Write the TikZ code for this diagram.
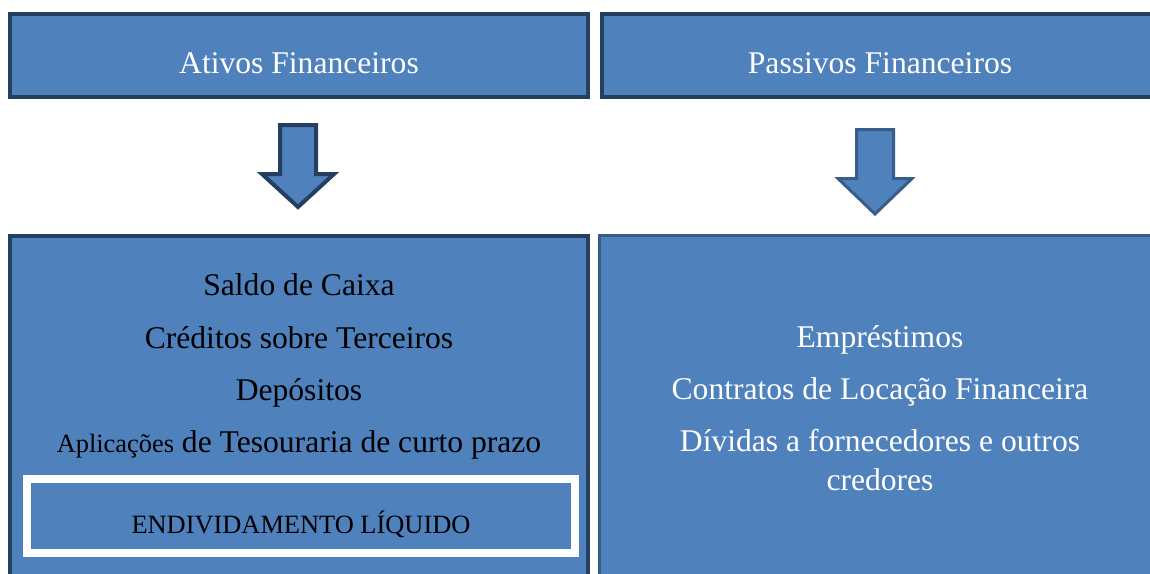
\documentclass[tikz,border=0pt]{standalone}
\usepackage{fontspec}
\setmainfont{Liberation Serif}

\definecolor{boxblue}{HTML}{4F81BD}
\definecolor{darkrim}{HTML}{243F60}
\definecolor{midrim}{HTML}{385D8A}

\tikzset{
	panel/.style={draw=darkrim,line width=4pt,fill=boxblue,inner sep=0pt},
	bigtext/.style={font=\fontsize{31.6}{38}\selectfont,anchor=base,inner sep=0pt},
	smalltext/.style={font=\fontsize{26.4}{32}\selectfont,anchor=base,inner sep=0pt}
}

\begin{document}
\begin{tikzpicture}[x=1pt,y=-1pt]
				\useasboundingbox (0,0) rectangle (1150,573);
				\clip (0,0) rectangle (1150,573);
				% top row
				\node[panel,minimum width=578pt,minimum height=83pt] (ativos) at (299,55.5) {};
				\node[panel,minimum width=558pt,minimum height=83pt] (passivos) at (881,55.5) {};
				\node[bigtext,text=white] (ativostitle) at (299,73) {Ativos Financeiros};
				\node[bigtext,text=white] (passivostitle) at (880,73) {Passivos Financeiros};
				% block arrows
				\draw[line width=4pt,draw=darkrim,fill=boxblue,line join=miter] (280,125) -- (316,125) -- (316,174) -- (334,174) -- (298,207) -- (262,174) -- (280,174) -- cycle;
				\draw[line width=3pt,draw=midrim,fill=boxblue,line join=miter] (856.5,129.5) -- (893.5,129.5) -- (893.5,178.5) -- (912,178.5) -- (875,214) -- (838,178.5) -- (856.5,178.5) -- cycle;
				% bottom row
				\node[panel,minimum width=578pt,minimum height=364pt] (ativoslist) at (299,418) {};
				\node[panel,draw=midrim,line width=3pt,minimum width=560.5pt,minimum height=364.5pt] (passivoslist) at (879.75,417.75) {};
				\node[bigtext] (saldo) at (299,295) {Saldo de Caixa};
				\node[bigtext] (creditos) at (299,348) {Créditos sobre Terceiros};
				\node[bigtext] (depositos) at (299,400) {Depósitos};
				\node[bigtext] (aplicacoes) at (299,452) {{\fontsize{26.4}{32}\selectfont Aplicações} de Tesouraria de curto prazo};
				\node[panel,draw=white,line width=8pt,minimum width=548pt,minimum height=74pt] (liquido) at (301,516) {};
				\node[smalltext] (liquidotext) at (301,533) {ENDIVIDAMENTO LÍQUIDO};
				\node[bigtext,text=white] (emprestimos) at (880,347) {Empréstimos};
				\node[bigtext,text=white] (contratos) at (880,399) {Contratos de Locação Financeira};
				\node[bigtext,text=white] (dividas) at (880,451) {Dívidas a fornecedores e outros};
				\node[bigtext,text=white] (credores) at (880,490) {credores};
			\end{tikzpicture}
\end{document}
